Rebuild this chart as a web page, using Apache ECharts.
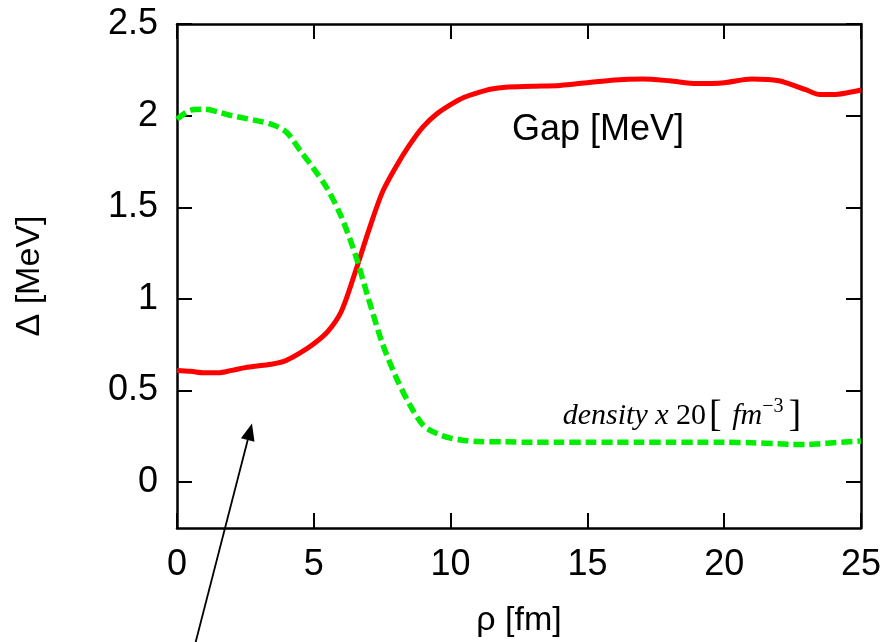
<!DOCTYPE html>
<html>
<head>
<meta charset="utf-8">
<script src="https://cdn.jsdelivr.net/npm/echarts@6/dist/echarts.min.js"></script>
<style>
  html, body { margin: 0; padding: 0; background: #fff; }
  #chart { width: 891px; height: 642px; }
</style>
</head>
<body>
<div id="chart"></div>
<script>
// gap curve
const gapX = [0,0.5,1,1.5,2,2.5,3,3.5,4,4.5,5,5.5,6,6.5,7,7.5,8,8.5,9,9.5,10,10.5,11,11.5,12,13,14,15,16,17,18,19,20,21,22,23,23.5,24,24.5,25];
const gapY = [0.61,0.605,0.597,0.597,0.61,0.625,0.635,0.645,0.665,0.705,0.755,0.82,0.93,1.14,1.37,1.58,1.72,1.84,1.94,2.01,2.06,2.10,2.125,2.145,2.155,2.16,2.165,2.18,2.195,2.20,2.19,2.175,2.18,2.20,2.19,2.14,2.115,2.115,2.125,2.14];

// density x 20
const densX = [0,0.5,1,1.5,2,2.5,3,3.5,4,4.5,5,5.5,6,6.5,7,7.5,8,8.5,9,9.5,10,10.5,11,12,13,14,15,16,17,18,19,20,21,22,22.5,23,23.5,24,25];
const densY = [1.98,2.03,2.035,2.02,2.0,1.985,1.97,1.95,1.91,1.81,1.71,1.60,1.45,1.25,1.0,0.76,0.575,0.425,0.31,0.265,0.24,0.228,0.222,0.22,0.218,0.218,0.218,0.218,0.218,0.218,0.218,0.218,0.215,0.21,0.205,0.205,0.21,0.215,0.225];

const xTicks = [0, 5, 10, 15, 20, 25];
const yTicks = [0, 0.5, 1, 1.5, 2, 2.5];

const font = 'Liberation Sans';

const chart = echarts.init(document.getElementById('chart'));

const pairs = (xs, ys) => xs.map((x, i) => [x, ys[i]]);

const axisLine = { show: true, onZero: false, lineStyle: { color: '#000', width: 2.5 } };
const tick = (vals) => ({ show: true, inside: true, length: 15, customValues: vals, lineStyle: { color: '#000', width: 2 } });

chart.setOption({
  animation: false,
  grid: { left: 177, right: 30, top: 24, bottom: 114, containLabel: false, outerBoundsMode: 'none' },
  xAxis: [
    {
      type: 'value', min: 0, max: 25,
      name: 'ρ [fm]', nameLocation: 'middle', nameGap: 76,
      nameTextStyle: { color: '#000', fontSize: 34, fontFamily: font },
      axisLine: axisLine,
      axisTick: tick(xTicks),
      axisLabel: { customValues: xTicks, color: '#000', fontSize: 36, fontFamily: font, margin: 19 },
      splitLine: { show: false }
    },
    {
      type: 'value', min: 0, max: 25, position: 'top',
      axisLine: axisLine, axisTick: tick(xTicks),
      axisLabel: { show: false }, splitLine: { show: false }
    }
  ],
  yAxis: [
    {
      type: 'value', min: -0.25, max: 2.5,
      name: 'Δ [MeV]', nameLocation: 'middle', nameGap: 130, nameRotate: 90,
      nameTextStyle: { color: '#000', fontSize: 34, fontFamily: font },
      axisLine: axisLine,
      axisTick: tick(yTicks),
      axisLabel: { customValues: yTicks, color: '#000', fontSize: 36, fontFamily: font, margin: 19 },
      splitLine: { show: false }
    },
    {
      type: 'value', min: -0.25, max: 2.5, position: 'right',
      axisLine: axisLine, axisTick: tick(yTicks),
      axisLabel: { show: false }, splitLine: { show: false }
    }
  ],
  series: [
    {
      name: 'Gap', type: 'line', data: pairs(gapX, gapY),
      smooth: 0.3, showSymbol: false,
      lineStyle: { color: '#ff0000', width: 5 }
    },
    {
      name: 'density', type: 'line', data: pairs(densX, densY),
      smooth: 0.3, showSymbol: false,
      lineStyle: { color: '#00ee00', width: 5.5, type: [11, 5] }
    }
  ]
});

// annotations placed through the chart's own scales
const px = (p) => chart.convertToPixel({ gridIndex: 0 }, p);
const gapPos = px([12.24, 1.92]);
const densPos = px([14.1, 0.36]);
const tail = px([0.66, -0.885]);
const tip = px([2.74, 0.32]);
const ang = Math.atan2(tip[1] - tail[1], tip[0] - tail[0]);
const hl = 17, hw = 7;
const bx = tip[0] - hl * Math.cos(ang), by = tip[1] - hl * Math.sin(ang);
const nx = -Math.sin(ang), ny = Math.cos(ang);

chart.setOption({
  graphic: [
    {
      type: 'text', x: gapPos[0], y: gapPos[1],
      style: { text: 'Gap [MeV]', fill: '#000', font: '36px "Liberation Sans"', verticalAlign: 'middle' }
    },
    {
      type: 'text', x: densPos[0], y: densPos[1],
      style: {
        text: '{it|density x }{n|20}{b|[}{it| fm}{sup|−3}{b|]}',
        verticalAlign: 'middle',
        rich: {
          it: { fontFamily: 'Liberation Serif', fontStyle: 'italic', fontSize: 30, fill: '#000', lineHeight: 38 },
          n: { fontFamily: 'Liberation Serif', fontSize: 30, fill: '#000', lineHeight: 38 },
          b: { fontFamily: 'Liberation Serif', fontSize: 38, fill: '#000', lineHeight: 38, padding: [0, 3, 0, 3] },
          sup: { fontFamily: 'Liberation Serif', fontSize: 20, fill: '#000', verticalAlign: 'top', lineHeight: 38, padding: [0, 2, 18, 0] }
        }
      }
    },
    {
      type: 'line',
      shape: { x1: tail[0], y1: tail[1], x2: bx, y2: by },
      style: { stroke: '#000', lineWidth: 1.8 }
    },
    {
      type: 'polygon',
      shape: { points: [tip, [bx + nx * hw, by + ny * hw], [bx - nx * hw, by - ny * hw]] },
      style: { fill: '#000' }
    }
  ]
});
</script>
</body>
</html>
